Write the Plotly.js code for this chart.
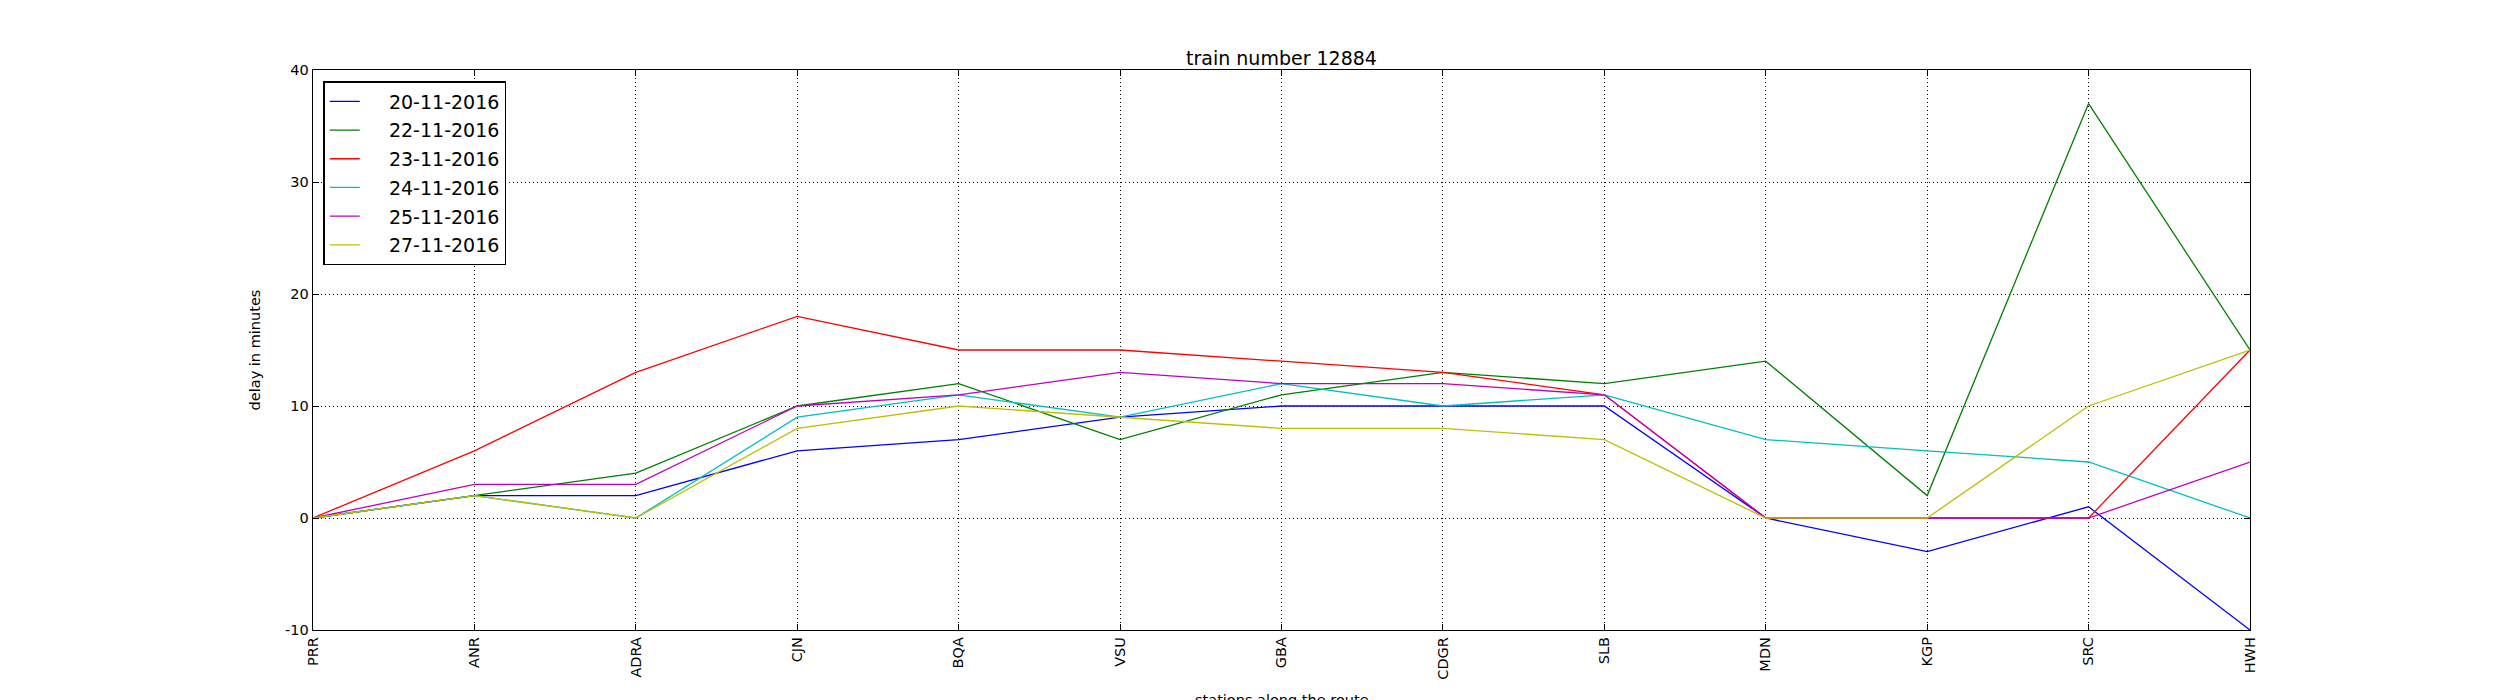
<!DOCTYPE html>
<html>
<head>
<meta charset="utf-8">
<title>train number 12884</title>
<script src="https://cdn.plot.ly/plotly-3.0.1.min.js"></script>
<style>
    html, body { margin: 0; padding: 0; background: #ffffff; }
    #delay-chart { width: 2500px; height: 700px; }
</style>
</head>
<body>
<div id="delay-chart"></div>
<script>
// Delay of train 12884 at each station, one series per journey date

const stations = ['PRR', 'ANR', 'ADRA', 'CJN', 'BQA', 'VSU', 'GBA', 'CDGR', 'SLB', 'MDN', 'KGP', 'SRC', 'HWH'];

const dates = ['20-11-2016', '22-11-2016', '23-11-2016', '24-11-2016', '25-11-2016', '27-11-2016'];

const delay_20_11 = [0, 2, 2, 6, 7, 9, 10, 10, 10, 0, -3, 1, -10];
const delay_22_11 = [0, 2, 4, 10, 12, 7, 11, 13, 12, 14, 2, 37, 15];
const delay_23_11 = [0, 6, 13, 18, 15, 15, 14, 13, 11, 0, 0, 0, 15];
const delay_24_11 = [0, 2, 0, 9, 11, 9, 12, 10, 11, 7, 6, 5, 0];
const delay_25_11 = [0, 3, 3, 10, 11, 13, 12, 12, 11, 0, 0, 0, 5];
const delay_27_11 = [0, 2, 0, 8, 10, 9, 8, 8, 7, 0, 0, 10, 15];

const yTicks = [-10, 0, 10, 20, 30, 40];

const series = [delay_20_11, delay_22_11, delay_23_11, delay_24_11, delay_25_11, delay_27_11];
// old matplotlib colour letters b, g, r, c, m, y
const colors = ['#0000ff', '#008000', '#ff0000', '#00bfbf', '#bf00bf', '#bfbf00'];

const FONT = 'DejaVu Sans, sans-serif';
// non-breaking spaces push the legend text away from its short line sample
const LEGEND_GAP = '\u00a0\u00a0\u00a0\u00a0';

const traces = series.map(function(values, i) {
    return {
        x: stations,
        y: values,
        name: LEGEND_GAP + dates[i],
        legendgroup: 'g' + i,
        type: 'scatter',
        mode: 'lines',
        line: { color: colors[i], width: 1.3 }
    };
});

const axisCommon = {
    showline: true,
    linecolor: '#000000',
    linewidth: 1.3,
    mirror: 'ticks',
    ticks: 'inside',
    ticklen: 6,
    tickcolor: '#000000',
    tickwidth: 1,
    showgrid: true,
    gridcolor: '#000000',
    gridwidth: 1,
    griddash: '1px,3px',
    zeroline: false,
    tickfont: { family: FONT, size: 14.5, color: '#000000' }
};

const layout = {
    width: 2500,
    height: 700,
    margin: { l: 312.5, r: 250, t: 70, b: 70 },
    paper_bgcolor: '#ffffff',
    plot_bgcolor: '#ffffff',
    font: { family: FONT, color: '#000000' },
    title: {
        text: 'train number 12884',
        font: { family: FONT, size: 19, color: '#000000' },
        x: 0.5,
        xref: 'paper',
        y: 1,
        yref: 'paper',
        yanchor: 'bottom',
        pad: { b: 5 }
    },
    xaxis: Object.assign({}, axisCommon, {
        type: 'category',
        range: [0, stations.length - 1],
        tickangle: -90,
        automargin: false
    }),
    yaxis: Object.assign({}, axisCommon, {
        range: [-10, 40],
        tickvals: yTicks,
        ticktext: yTicks.map(String),
        automargin: false,
        title: {
            text: 'delay in minutes',
            font: { family: FONT, size: 14.5, color: '#000000' },
            standoff: 21
        }
    }),
    showlegend: true,
    legend: {
        x: 0.0054,
        y: 0.98,
        xanchor: 'left',
        yanchor: 'top',
        bgcolor: '#ffffff',
        bordercolor: '#000000',
        borderwidth: 1.3,
        traceorder: 'grouped',
        tracegroupgap: 1,
        font: { family: FONT, size: 19, color: '#000000' }
    },
    annotations: [{
        // x axis title sits partly below the bottom edge, as in the original
        text: 'stations along the route',
        xref: 'paper',
        yref: 'paper',
        x: 0.5,
        y: -0.108,
        xanchor: 'center',
        yanchor: 'top',
        showarrow: false,
        font: { family: FONT, size: 14.5, color: '#000000' }
    }]
};

try {
    Plotly.newPlot('delay-chart', traces, layout, { displayModeBar: false, staticPlot: true });
} catch (error) {
    console.error('Failed to render chart:', error);
}
</script>
</body>
</html>
